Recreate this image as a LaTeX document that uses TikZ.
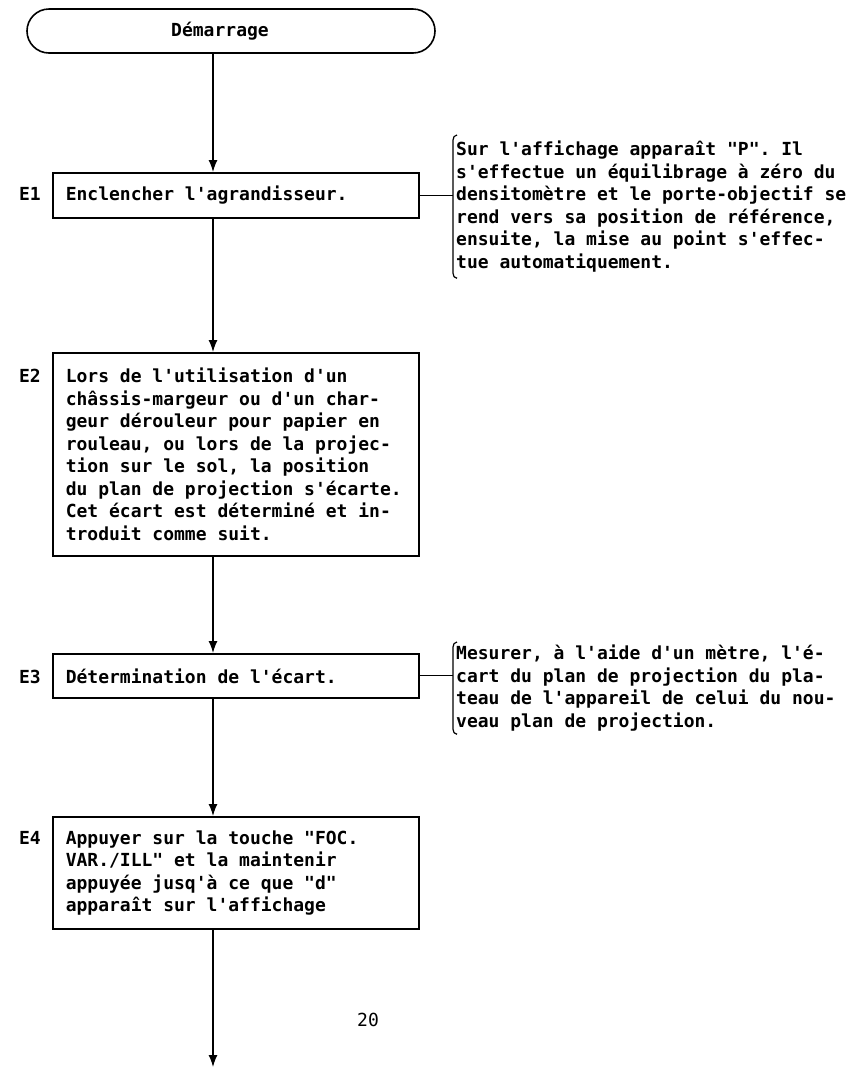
\documentclass[tikz,border=0pt]{standalone}
\usepackage{fontspec}
\newfontfamily\mono{DejaVu Sans Mono}
\usetikzlibrary{arrows.meta}
\begin{document}
\begin{tikzpicture}[x=1pt,y=-1pt,
  txt/.style={font=\mono\bfseries\fontsize{18}{22.5}\selectfont},
  fixspaces/.style={execute at begin node={\frenchspacing\spaceskip=0pt\relax\xspaceskip=0pt\relax}},
  stepbox/.style={txt, draw, line width=1.6pt, text width=340pt, inner xsep=13pt,
    inner ysep=0pt, align=left, anchor=north west, minimum width=366pt, fixspaces},
  termbox/.style={txt, draw, line width=1.6pt, rounded corners=22pt,
    minimum width=408pt, minimum height=44pt},
  steplabel/.style={txt, anchor=center},
  comment/.style={txt, align=left, anchor=north west, inner xsep=3pt, fixspaces},
  bracket/.style={line width=1.2pt},
  link/.style={line width=1.3pt},
  arrow/.style={line width=1.3pt, -{Latex[length=12pt,width=9pt]}}
]
\useasboundingbox (0,0) rectangle (865,1069);
\coordinate (ax) at (213,0);

% start
\node[termbox] (start) at (231,31) {\hspace*{-22pt}Démarrage};

% step boxes
\node[stepbox, minimum height=45pt] (e1) at (52,172) {Enclencher l'agrandisseur.};
\node[stepbox, minimum height=203pt] (e2) at (52,352) {Lors de l'utilisation d'un\\
châssis-margeur ou d'un char-\\
geur dérouleur pour papier en\\
rouleau, ou lors de la projec-\\
tion sur le sol, la position\\
du plan de projection s'écarte.\\
Cet écart est déterminé et in-\\
troduit comme suit.};
\node[stepbox, minimum height=44pt] (e3) at (52,653) {Détermination de l'écart.};
\node[stepbox, minimum height=112pt] (e4) at (52,816) {Appuyer sur la touche "FOC.\\
VAR./ILL" et la maintenir\\
appuyée jusq'à ce que "d"\\
apparaît sur l'affichage};

% labels
\node[steplabel] (l1) at (30,194) {E1};
\node[steplabel] (l2) at (30,376) {E2};
\node[steplabel] (l3) at (30,677) {E3};
\node[steplabel] (l4) at (30,838) {E4};

% comments
\node[comment, inner ysep=6pt] (c1) at (453,135) {Sur l'affichage apparaît "P". Il\\
s'effectue un équilibrage à zéro du\\
densitomètre et le porte-objectif se\\
rend vers sa position de référence,\\
ensuite, la mise au point s'effec-\\
tue automatiquement.};
\node[comment, inner ysep=3pt] (c2) at (453,642) {Mesurer, à l'aide d'un mètre, l'é-\\
cart du plan de projection du pla-\\
teau de l'appareil de celui du nou-\\
veau plan de projection.};

\foreach \c in {c1,c2}{
  \draw[bracket] ([xshift=4pt]\c.north west) to[out=180,in=90] ([yshift=-5pt]\c.north west)
    -- ([yshift=5pt]\c.south west) to[out=-90,in=180] ([xshift=4pt]\c.south west);
}

% page number
\node[font=\mono\fontsize{18}{22}\selectfont] (pg) at (368,1020) {20};

% connectors
\coordinate (endpt) at (213,1067);
\draw[arrow] (start.south -| ax) -- (e1.north -| ax);
\draw[arrow] (e1.south -| ax) -- (e2.north -| ax);
\draw[arrow] (e2.south -| ax) -- (e3.north -| ax);
\draw[arrow] (e3.south -| ax) -- (e4.north -| ax);
\draw[arrow] (e4.south -| ax) -- (endpt);
\draw[link] (e1.east) -- (e1.east -| c1.west);
\draw[link] (e3.east) -- (e3.east -| c2.west);
\end{tikzpicture}
\end{document}
